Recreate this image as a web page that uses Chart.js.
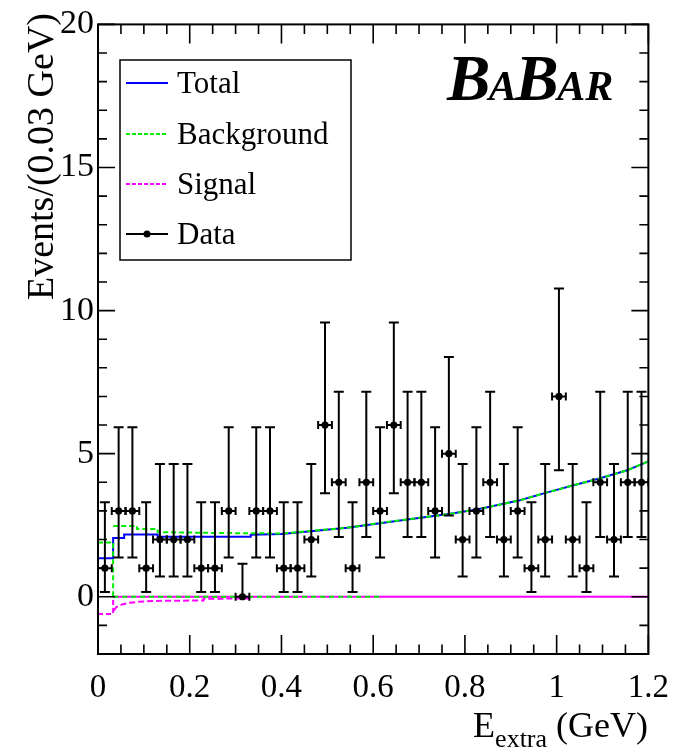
<!DOCTYPE html>
<html>
<head>
<meta charset="utf-8">
<script src="https://cdn.jsdelivr.net/npm/chart.js@4.4.1/dist/chart.umd.min.js"></script>
<style>
  html, body { margin: 0; padding: 0; background: #fff; }
  canvas { display: block; }
</style>
</head>
<body>
<canvas id="c" width="684" height="754"></canvas>
<script>
// ---- E_extra distribution, 0.03 GeV bins ----
const binCenters = [0.015,0.045,0.075,0.105,0.135,0.165,0.195,0.225,0.255,0.285,
                    0.315,0.345,0.375,0.405,0.435,0.465,0.495,0.525,0.555,0.585,
                    0.615,0.645,0.675,0.705,0.735,0.765,0.795,0.825,0.855,0.885,
                    0.915,0.945,0.975,1.005,1.035,1.065,1.095,1.125,1.155,1.185];
const binHalfWidth = 0.015;
const counts = [1,3,3,1,2,2,2,1,1,3, 0,3,3,1,1,2,6,4,1,4,
                3,6,4,4,3,5,2,3,4,2, 3,1,2,7,2,1,4,2,4,4];
// Poisson error bar ends (lower / upper)
const errLo = [0.17,1.37,1.37,0.17,0.71,0.71,0.71,0.17,0.17,1.37,
               0,1.37,1.37,0.17,0.17,0.71,3.62,2.09,0.17,2.09,
               1.37,3.62,2.09,2.09,1.37,2.84,0.71,1.37,2.09,0.71,
               1.37,0.17,0.71,4.42,0.71,0.17,2.09,0.71,2.09,2.09];
const errHi = [3.30,5.92,5.92,3.30,4.64,4.64,4.64,3.30,3.30,5.92,
               1.15,5.92,5.92,3.30,3.30,4.64,9.58,7.16,3.30,7.16,
               5.92,9.58,7.16,7.16,5.92,8.38,4.64,5.92,7.16,4.64,
               5.92,3.30,4.64,10.77,4.64,3.30,7.16,4.64,7.16,7.16];

// ---- fit curves ----
const totalX = [0,0.033,0.033,0.057,0.057,0.13,0.13,0.333,0.333,0.40,0.47,0.543,0.615,0.687,0.761,0.826,0.92,0.978,1.035,1.093,1.152,1.2];
const totalY = [1.35,1.35,2.05,2.05,2.18,2.18,2.10,2.10,2.17,2.19,2.30,2.41,2.57,2.73,2.88,3.05,3.37,3.64,3.89,4.13,4.41,4.73];

const bkgLeftX = [0,0.033,0.033];
const bkgLeftY = [1.9,1.9,0];
const bkgX = [0.033,0.085,0.085,0.13,0.13,0.25,0.40,0.47,0.543,0.615,0.687,0.761,0.826,0.92,0.978,1.035,1.093,1.152,1.2];
const bkgY = [2.47,2.47,2.37,2.37,2.26,2.23,2.21,2.31,2.41,2.58,2.73,2.88,3.05,3.37,3.64,3.89,4.13,4.41,4.73];
const bkgZeroX = [0.033,0.62];
const bkgZeroY = [0,0];

const sigLeftX = [0,0.033,0.033];
const sigLeftY = [-0.6,-0.6,0];
const sigX = [0.034,0.04,0.054,0.07,0.09,0.14,0.23,0.23,0.33,0.34];
const sigY = [-0.48,-0.36,-0.26,-0.21,-0.17,-0.14,-0.13,-0.07,-0.06,0];
const sigZeroX = [0.033,1.2];
const sigZeroY = [0,0];

// ---- axes ----
const xTickValues = [0,0.2,0.4,0.6,0.8,1.0,1.2];
const xTickLabels = ['0','0.2','0.4','0.6','0.8','1','1.2'];
const yTickValues = [0,5,10,15,20];
const yTickLabels = ['0','5','10','15','20'];

const legendItems = [
  {label:'Total', color:'#0000ff', dash:[], marker:false},
  {label:'Background', color:'#00ee00', dash:[4,2], marker:false},
  {label:'Signal', color:'#ff00ff', dash:[4,2], marker:false},
  {label:'Data', color:'#000000', dash:[], marker:true}
];

const SERIF = '"Liberation Serif", "Times New Roman", serif';
const pts = (xs, ys) => xs.map((x, i) => ({x, y: ys[i]}));

function lineSet(data, color, dash, width) {
  return {
    type: 'line', data, borderColor: color, borderDash: dash, borderWidth: width,
    pointRadius: 0, fill: false, tension: 0, spanGaps: false
  };
}

// error bars on the data points
const errorBars = {
  id: 'errorBars',
  afterDatasetsDraw(chart) {
    const {ctx, scales: {x, y}, chartArea: a} = chart;
    ctx.save();
    ctx.beginPath(); ctx.rect(a.left, a.top, a.width, a.height); ctx.clip();
    ctx.strokeStyle = '#000'; ctx.lineWidth = 2;
    const cap = 5, hcap = 4;
    binCenters.forEach((c, i) => {
      const px = x.getPixelForValue(c), py = y.getPixelForValue(counts[i]);
      const yl = y.getPixelForValue(errLo[i]), yh = y.getPixelForValue(errHi[i]);
      const xl = x.getPixelForValue(c - binHalfWidth), xr = x.getPixelForValue(c + binHalfWidth);
      ctx.beginPath();
      ctx.moveTo(px, yl); ctx.lineTo(px, yh);
      ctx.moveTo(px - cap, yl); ctx.lineTo(px + cap, yl);
      ctx.moveTo(px - cap, yh); ctx.lineTo(px + cap, yh);
      ctx.moveTo(xl, py); ctx.lineTo(xr, py);
      ctx.moveTo(xl, py - hcap); ctx.lineTo(xl, py + hcap);
      ctx.moveTo(xr, py - hcap); ctx.lineTo(xr, py + hcap);
      ctx.stroke();
    });
    ctx.restore();
  }
};

// frame, inward ticks, titles, legend box and experiment label
const decorations = {
  id: 'decorations',
  afterDraw(chart) {
    const {ctx, scales: {x, y}, chartArea: a} = chart;
    ctx.save();
    ctx.strokeStyle = '#000';
    ctx.lineWidth = 2;
    ctx.strokeRect(a.left, a.top, a.width, a.height);

    ctx.lineWidth = 1.6;
    ctx.beginPath();
    for (let k = 0; k <= 24; k++) {
      const v = k * 0.05, px = x.getPixelForValue(v);
      const len = (k % 4 === 0) ? 19 : 9.5;
      ctx.moveTo(px, a.bottom); ctx.lineTo(px, a.bottom - len);
      ctx.moveTo(px, a.top); ctx.lineTo(px, a.top + len);
    }
    for (let v = -2; v <= 20; v++) {
      const py = y.getPixelForValue(v);
      const len = (v % 5 === 0) ? 17 : 9;
      ctx.moveTo(a.left, py); ctx.lineTo(a.left + len, py);
      ctx.moveTo(a.right, py); ctx.lineTo(a.right - len, py);
    }
    ctx.stroke();

    // y title
    ctx.fillStyle = '#000';
    ctx.save();
    ctx.translate(53, 13);
    ctx.rotate(-Math.PI / 2);
    ctx.font = `38px ${SERIF}`;
    ctx.textAlign = 'right';
    ctx.textBaseline = 'alphabetic';
    ctx.fillText('Events/(0.03 GeV)', 0, 0);
    ctx.restore();

    // x title with subscript
    ctx.textAlign = 'left';
    ctx.textBaseline = 'alphabetic';
    ctx.font = `36px ${SERIF}`;
    const wE = ctx.measureText('E').width;
    const wRest = ctx.measureText(' (GeV)').width;
    ctx.font = `26px ${SERIF}`;
    const wSub = ctx.measureText('extra').width;
    let tx = 648 - (wE + wSub + wRest);
    ctx.font = `36px ${SERIF}`;
    ctx.fillText('E', tx, 737);
    ctx.font = `26px ${SERIF}`;
    ctx.fillText('extra', tx + wE, 747);
    ctx.font = `36px ${SERIF}`;
    ctx.fillText(' (GeV)', tx + wE + wSub, 737);

    // legend
    ctx.fillStyle = '#fff';
    ctx.fillRect(120, 60, 231, 200);
    ctx.lineWidth = 1.5;
    ctx.strokeStyle = '#000';
    ctx.strokeRect(120, 60, 231, 200);
    const rowY = [83, 134, 184, 234];
    legendItems.forEach((it, i) => {
      const cy = rowY[i];
      ctx.strokeStyle = it.color;
      ctx.lineWidth = 1.8;
      ctx.setLineDash(it.dash);
      ctx.beginPath(); ctx.moveTo(126, cy); ctx.lineTo(168, cy); ctx.stroke();
      ctx.setLineDash([]);
      if (it.marker) {
        ctx.fillStyle = '#000';
        ctx.beginPath(); ctx.arc(147, cy, 3.5, 0, Math.PI * 2); ctx.fill();
      }
      ctx.fillStyle = '#000';
      ctx.font = `31px ${SERIF}`;
      ctx.fillText(it.label, 177, cy + 10);
    });

    // experiment label in small caps
    const parts = [['B', 65], ['A', 42], ['B', 65], ['AR', 42]];
    let lx = 447;
    parts.forEach(([t, s]) => {
      ctx.font = `italic bold ${s}px ${SERIF}`;
      ctx.fillText(t, lx, 100);
      lx += ctx.measureText(t).width - 1.5;
    });
    ctx.restore();
  }
};

const chart = new Chart(document.getElementById('c'), {
  data: {
    datasets: [
      {
        type: 'scatter', label: 'Data', data: pts(binCenters, counts),
        pointRadius: 3.6, pointBackgroundColor: '#000', pointBorderColor: '#000', pointBorderWidth: 0
      },
      Object.assign(lineSet(pts(bkgX, bkgY), '#00ee00', [5, 3], 2), {label: 'Background'}),
      lineSet(pts(bkgLeftX, bkgLeftY), '#00ee00', [5, 3], 2),
      lineSet(pts(bkgZeroX, bkgZeroY), '#00ee00', [5, 4], 2),
      Object.assign(lineSet(pts(totalX, totalY), '#0000ff', [], 2), {label: 'Total'}),
      Object.assign(lineSet(pts(sigX, sigY), '#ff00ff', [6, 3], 2), {label: 'Signal'}),
      lineSet(pts(sigLeftX, sigLeftY), '#ff00ff', [5, 3], 2),
      lineSet(pts(sigZeroX, sigZeroY), '#ff00ff', [], 2)
    ]
  },
  options: {
    responsive: false,
    animation: false,
    layout: { padding: { top: 19, right: 34, left: 0, bottom: 0 } },
    plugins: { legend: { display: false }, tooltip: { enabled: false } },
    scales: {
      x: {
        type: 'linear', min: 0, max: 1.2,
        grid: { display: false, drawTicks: false },
        border: { display: false },
        afterBuildTicks: s => { s.ticks = xTickValues.map(v => ({value: v})); },
        afterFit: s => { s.height = 100; },
        ticks: {
          autoSkip: false, maxRotation: 0, padding: 15, color: '#000',
          font: { family: SERIF, size: 33 },
          callback: (v, i) => xTickLabels[i]
        }
      },
      y: {
        type: 'linear', min: -2, max: 20,
        grid: { display: false, drawTicks: false },
        border: { display: false },
        afterBuildTicks: s => { s.ticks = yTickValues.map(v => ({value: v})); },
        afterFit: s => { s.width = 98; },
        ticks: {
          autoSkip: false, padding: 4, color: '#000',
          font: { family: SERIF, size: 34 },
          callback: (v, i) => yTickLabels[i]
        }
      }
    }
  },
  plugins: [errorBars, decorations]
});
</script>
</body>
</html>
